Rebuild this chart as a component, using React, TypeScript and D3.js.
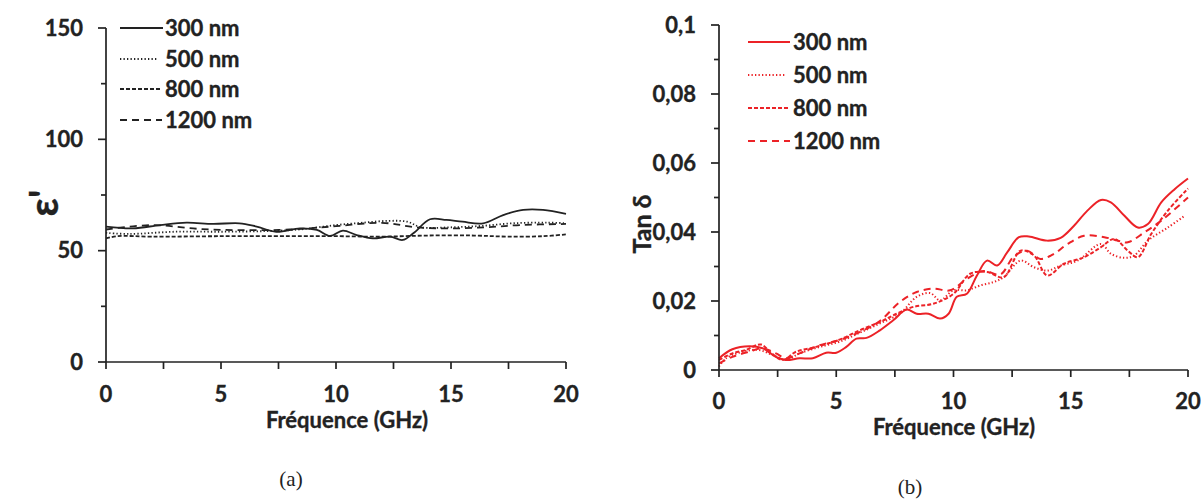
import React from 'react';
import * as d3 from 'd3';

// ---------- Data: (a) permittivity ε' ----------
const seriesLabels = ['300 nm', '500 nm', '800 nm', '1200 nm'];

const epsFreq300 = [0, 1.17, 2.35, 3.5, 4.65, 5.8, 6.55, 7.4, 8.43, 9.17, 9.74, 10.3, 10.9, 11.6, 12.35, 12.9, 13.36, 14.09, 14.8, 15.5, 16.4, 17.27, 18.14, 19.0, 20];
const eps300 = [60.8, 60.0, 61.5, 62.6, 62.0, 62.3, 60.8, 58.5, 60.0, 59.3, 56.6, 59.0, 57.0, 55.5, 56.3, 54.8, 57.8, 64.1, 63.8, 63.0, 62.3, 66.0, 68.3, 68.3, 66.5];

const epsFreq500 = [0, 1, 3, 5, 7, 8.5, 10, 11.2, 12.3, 13.1, 13.7, 15, 16.3, 17.7, 19.2, 20];
const eps500 = [58, 57.5, 58.5, 58.5, 58.8, 59.6, 61.5, 62.6, 63.4, 63, 60.5, 60.5, 61.1, 62.3, 62.6, 62.3];

const epsFreq800 = [0, 0.5, 2, 5, 8, 10, 12, 14, 16, 17.5, 19, 20];
const eps800 = [55.5, 56.5, 56.3, 56.5, 56.5, 56.5, 56.3, 56.8, 56.8, 56.3, 56.5, 57.3];

const epsFreq1200 = [0, 2, 4, 6, 8, 10, 12, 13.5, 15, 16.5, 18, 20];
const eps1200 = [59.5, 61.5, 59.8, 59.2, 59.5, 61.0, 62.5, 60.5, 60.0, 60.5, 61.5, 62.0];

// ---------- Data: (b) loss tangent ----------
const tanFreq300 = [0, 0.57, 1.29, 1.86, 2.43, 2.86, 3.43, 4.0, 4.57, 5.0, 5.43, 5.86, 6.29, 6.86, 7.43, 8.0, 8.43, 8.93, 9.43, 9.79, 10.14, 10.57, 11.0, 11.43, 11.86, 12.29, 12.79, 13.21, 14.0, 14.57, 15.14, 15.71, 16.29, 16.71, 17.29, 17.86, 18.29, 18.86, 19.43, 20];
const tan300 = [0.0034, 0.006, 0.0069, 0.0063, 0.0038, 0.0029, 0.0034, 0.0034, 0.005, 0.005, 0.0067, 0.0091, 0.0093, 0.0115, 0.0144, 0.0175, 0.0163, 0.0163, 0.0149, 0.0163, 0.0212, 0.0221, 0.0274, 0.0317, 0.0303, 0.0341, 0.0385, 0.0387, 0.0375, 0.0383, 0.0418, 0.0462, 0.0493, 0.0486, 0.0447, 0.0413, 0.0423, 0.0486, 0.0524, 0.0555];

const tanFreq500 = [0, 0.3, 1.0, 1.7, 2.3, 2.86, 3.43, 4.3, 5.14, 6.0, 6.86, 7.71, 8.43, 9.0, 9.43, 10.0, 10.57, 11.14, 11.71, 12.14, 12.86, 13.43, 14.0, 14.57, 15.29, 16.29, 16.71, 17.29, 17.71, 18.29, 19.14, 19.86];
const tan500 = [0.001, 0.0034, 0.0053, 0.0058, 0.0043, 0.0029, 0.0048, 0.0067, 0.0082, 0.0108, 0.0135, 0.0163, 0.0212, 0.0223, 0.0202, 0.0231, 0.0231, 0.0245, 0.0255, 0.0269, 0.0317, 0.0298, 0.0288, 0.0303, 0.0317, 0.0365, 0.0337, 0.0325, 0.0332, 0.0375, 0.0413, 0.0447];

const tanFreq800 = [0, 0.57, 1.14, 1.79, 2.21, 2.71, 3.29, 4.14, 5.14, 6.0, 6.86, 7.57, 8.29, 9.14, 10.0, 10.71, 11.43, 12.14, 12.86, 13.43, 14.0, 14.71, 15.57, 16.29, 16.86, 17.43, 17.86, 18.43, 19.14, 20];
const tan800 = [0.0029, 0.0048, 0.0058, 0.0074, 0.005, 0.0029, 0.0053, 0.0067, 0.0088, 0.0115, 0.0139, 0.0163, 0.0183, 0.0192, 0.0221, 0.0279, 0.0284, 0.0269, 0.0346, 0.0332, 0.0274, 0.0308, 0.0327, 0.0356, 0.038, 0.0346, 0.0327, 0.0394, 0.0462, 0.0526];

const tanFreq1200 = [0, 0.57, 1.29, 1.86, 2.43, 2.86, 3.43, 4.3, 5.14, 6.0, 6.86, 7.71, 8.43, 9.14, 9.86, 10.57, 11.29, 12.0, 12.57, 13.14, 13.71, 14.29, 14.86, 15.57, 16.43, 17.0, 17.43, 18.14, 18.86, 20];
const tan1200 = [0.0019, 0.0038, 0.0053, 0.0063, 0.0048, 0.0034, 0.0048, 0.0072, 0.0087, 0.011, 0.0142, 0.0197, 0.0226, 0.0236, 0.0231, 0.0264, 0.0287, 0.0277, 0.0329, 0.0346, 0.0322, 0.0337, 0.0365, 0.0389, 0.0385, 0.0375, 0.037, 0.0399, 0.0433, 0.05];

const xTicksMajor = [0, 5, 10, 15, 20];
const epsTicks = [0, 50, 100, 150];
const tanTicks = [0, 0.02, 0.04, 0.06, 0.08, 0.1];
const tanTickLabels = ['0', '0,02', '0,04', '0,06', '0,08', '0,1'];

const FONT = 'Lato, "Open Sans", sans-serif';
const DARK = '#222';
const RED = '#ec2227';
const FS = 22;

const dashes = ['none', '1.3,2.2', '4,2', '7,5'];

type Series = { f: number[]; v: number[] };

const boldText = { fontFamily: FONT, fontWeight: 700, fill: DARK, stroke: DARK, strokeWidth: 0.35 } as const;

function Panel(props: {
  x0: number; x1: number; y0: number; y1: number; yMax: number;
  yTicks: number[]; yTickLabels: string[]; minorStep: number;
  series: Series[]; color: string; width: number;
  legendX: number; legendYs: number[]; legendLen: number[];
  xLabelY: number;
}) {
  const { x0, x1, y0, y1, yMax, yTicks, yTickLabels, minorStep, series, color } = props;
  const x = d3.scaleLinear().domain([0, 20]).range([x0, x1]);
  const y = d3.scaleLinear().domain([0, yMax]).range([y0, y1]);
  const line = d3.line<[number, number]>().x(d => x(d[0])).y(d => y(d[1])).curve(d3.curveCatmullRom.alpha(0.5));
  const minor = d3.range(0, yMax + 1e-9, minorStep);
  const xMinor = d3.range(0, 20.001, 2.5);
  return (
    <g>
      {series.map((s, i) => (
        <path key={i} d={line(s.f.map((f, k) => [f, s.v[k]] as [number, number])) || ''}
          fill="none" stroke={color} strokeWidth={props.width} strokeDasharray={dashes[i]} strokeLinejoin="round" />
      ))}
      <line x1={x0} x2={x0} y1={y(yMax)} y2={y0} stroke={DARK} strokeWidth={1.7} />
      <line x1={x0} x2={x1} y1={y0} y2={y0} stroke={DARK} strokeWidth={1.7} />
      {minor.map((t, i) => (
        <line key={'ym' + i} x1={x0 - (yTicks.some(m => Math.abs(m - t) < 1e-9) ? 8 : 5)} x2={x0} y1={y(t)} y2={y(t)} stroke={DARK} strokeWidth={1.7} />
      ))}
      {xMinor.map((t, i) => (
        <line key={'xm' + i} x1={x(t)} x2={x(t)} y1={y0} y2={y0 + 7} stroke={DARK} strokeWidth={1.7} />
      ))}
      {yTicks.map((t, i) => (
        <text key={'yl' + i} x={x0 - 23} y={y(t)} dy="0.35em" textAnchor="end" fontSize={FS} {...boldText}>{yTickLabels[i]}</text>
      ))}
      {xTicksMajor.map((t, i) => (
        <text key={'xl' + i} x={x(t)} y={props.xLabelY} dy="0.35em" textAnchor="middle" fontSize={FS} {...boldText}>{t}</text>
      ))}
      {seriesLabels.map((lab, i) => (
        <g key={'lg' + i}>
          <line x1={props.legendX} x2={props.legendX + props.legendLen[i]} y1={props.legendYs[i]} y2={props.legendYs[i]}
            stroke={color} strokeWidth={props.width} strokeDasharray={dashes[i]} />
          <text x={props.legendX + 45} y={props.legendYs[i]} dy="0.35em" fontSize={FS} {...boldText}>{lab}</text>
        </g>
      ))}
    </g>
  );
}

export default function App() {
  const epsSeries: Series[] = [
    { f: epsFreq300, v: eps300 }, { f: epsFreq500, v: eps500 },
    { f: epsFreq800, v: eps800 }, { f: epsFreq1200, v: eps1200 },
  ];
  const tanSeries: Series[] = [
    { f: tanFreq300, v: tan300 }, { f: tanFreq500, v: tan500 },
    { f: tanFreq800, v: tan800 }, { f: tanFreq1200, v: tan1200 },
  ];
  return (
    <svg width={1202} height={502} style={{ position: 'absolute', left: 0, top: 0, background: '#fff' }}>
      <rect width={1202} height={502} fill="#fff" />
      <Panel x0={106} x1={566} y0={362} y1={28} yMax={150} yTicks={epsTicks} yTickLabels={epsTicks.map(String)}
        minorStep={25} series={epsSeries} color={DARK} width={1.8}
        legendX={120} legendYs={[28, 59, 89, 120]} legendLen={[43, 37, 42, 42]} xLabelY={394} />
      <Panel x0={719} x1={1188} y0={370} y1={25} yMax={0.1} yTicks={tanTicks} yTickLabels={tanTickLabels}
        minorStep={0.01} series={tanSeries} color={RED} width={2}
        legendX={748} legendYs={[42, 75, 108, 141]} legendLen={[42, 37, 42, 42]} xLabelY={401} />
      <text x={347} y={420} dy="0.35em" textAnchor="middle" fontSize={FS} {...boldText}>Fréquence (GHz)</text>
      <text x={954} y={427} dy="0.35em" textAnchor="middle" fontSize={FS} {...boldText}>Fréquence (GHz)</text>
      <text transform="translate(44,203) rotate(-90)" textAnchor="middle" dy="0.35em" fontSize={40} {...boldText}>ε'</text>
      <text transform="translate(642,224) rotate(-90)" textAnchor="middle" dy="0.35em" fontSize={25} {...boldText}>Tan δ</text>
      <text x={291} y={479} dy="0.35em" textAnchor="middle" fontFamily='"Liberation Serif", "Times New Roman", serif' fontSize={21} fill={DARK}>(a)</text>
      <text x={910} y={487} dy="0.35em" textAnchor="middle" fontFamily='"Liberation Serif", "Times New Roman", serif' fontSize={21} fill={DARK}>(b)</text>
    </svg>
  );
}
